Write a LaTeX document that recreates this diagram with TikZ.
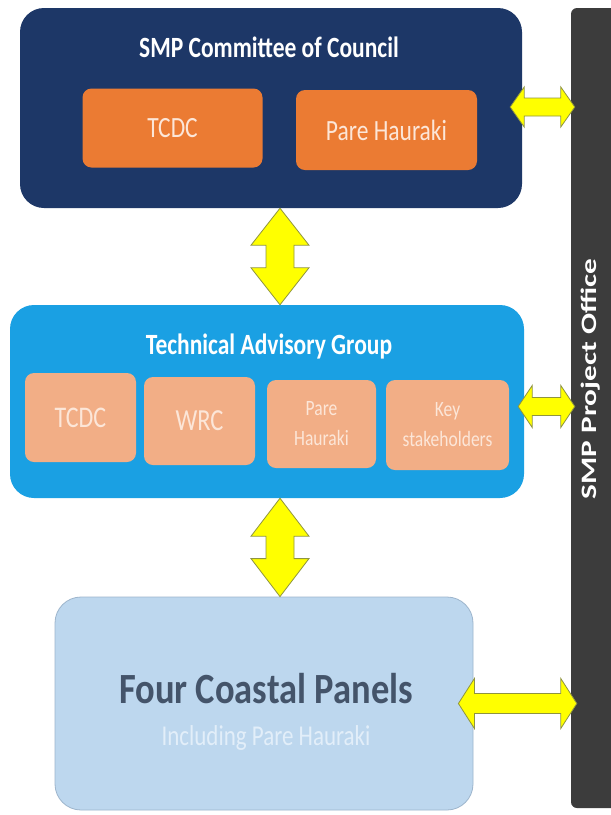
\documentclass[tikz,border=0pt]{standalone}
\usepackage{fontspec}
\usepackage{graphicx}
\setmainfont{Carlito}
\usetikzlibrary{calc}
\definecolor{navy}{HTML}{1D3767}
\definecolor{tagblue}{HTML}{1AA0E3}
\definecolor{orng}{HTML}{EB7B33}
\definecolor{salmon}{HTML}{F2AE86}
\definecolor{lblue}{HTML}{BDD7EE}
\definecolor{lbedge}{HTML}{9DB5CC}
\definecolor{barc}{HTML}{3C3C3C}
\definecolor{darktxt}{HTML}{44546A}
\definecolor{yel}{HTML}{FFFF00}
\definecolor{yeledge}{HTML}{8F9440}
\definecolor{lighttxt}{HTML}{FCE6D8}
\definecolor{subtxt}{HTML}{E2EEF9}
% tall (vertically stretched) text
\newcommand\tallt[1]{\scalebox{1}[1.25]{#1}}
\newcommand\twoline[2]{\tallt{\begin{tabular}{@{}c@{}}#1\\#2\end{tabular}}}
% vertical double block arrow: top, bottom, head length, half head width, half shaft width
\newcommand\vdblarrow[5]{\draw[yarrow] (#1) -- ++(#4,#3) -- ++(#5-#4,0) -- ($(#2)+(#5,-#3)$) -- ++(#4-#5,0) -- (#2) -- ++(-#4,-#3) -- ++(#4-#5,0) -- ($(#1)+(-#5,#3)$) -- ++(#5-#4,0) -- cycle;}
% horizontal double block arrow: left, right, head length, half head width, half shaft width
\newcommand\hdblarrow[5]{\draw[yarrow] (#1) -- ++(#3,-#4) -- ++(0,#4-#5) -- ($(#2)+(-#3,-#5)$) -- ++(0,#5-#4) -- (#2) -- ++(-#3,#4) -- ++(0,#5-#4) -- ($(#1)+(#3,#5)$) -- ++(0,#4-#5) -- cycle;}
\begin{document}
\begin{tikzpicture}[x=1pt,y=-1pt,
  bigbox/.style={rounded corners=24pt, inner sep=0pt},
  orbox/.style={fill=orng, rounded corners=9pt, inner sep=0pt, text=lighttxt, font=\fontsize{23.5}{26}\selectfont},
  sabox/.style={fill=salmon, rounded corners=9pt, inner sep=0pt, text=lighttxt, align=center},
  titletxt/.style={text=white, inner sep=0pt, font=\bfseries\fontsize{23.5}{26}\selectfont},
  yarrow/.style={fill=yel, draw=yeledge, line width=0.8pt, line join=miter}
]
\useasboundingbox (0,0) rectangle (611,815);
\clip (0,0) rectangle (611,815);
\fill[white] (0,0) rectangle (611,815);

% project office bar
\node[fill=barc, rounded corners=6pt, minimum width=48pt, minimum height=800pt] (po) at (595,408) {};
\node[rotate=90, text=white, inner sep=0pt, font=\bfseries\fontsize{22}{24}\selectfont] (pol) at (591,379) {\scalebox{1.42}[1]{SMP Project Office}};

% committee
\node[bigbox, fill=navy, minimum width=502pt, minimum height=200pt] (cc) at (271,108) {};
\node[titletxt] (cct) at (269,47) {\tallt{SMP Committee of Council}};
\node[orbox, minimum width=180pt, minimum height=79pt] (t1) at (172.5,128) {\tallt{TCDC}};
\node[orbox, minimum width=181pt, minimum height=80pt] (t2) at (386.5,130) {\tallt{Pare Hauraki}};

% technical advisory group
\node[bigbox, fill=tagblue, minimum width=514pt, minimum height=193pt] (tag) at (267,401.5) {};
\node[titletxt] (tagt) at (269,346) {\tallt{Technical Advisory Group}};
\node[sabox, minimum width=111pt, minimum height=89pt, font=\fontsize{24}{26}\selectfont] (s1) at (80.5,417.5) {\tallt{TCDC}};
\node[sabox, minimum width=111pt, minimum height=88pt, font=\fontsize{24.5}{26}\selectfont] (s2) at (199.5,421) {\tallt{WRC}};
\node[sabox, minimum width=109pt, minimum height=88pt, font=\fontsize{17.5}{24}\selectfont] (s3) at (321.5,424) {\twoline{Pare}{Hauraki}};
\node[sabox, minimum width=123pt, minimum height=90pt, font=\fontsize{17.5}{24}\selectfont] (s4) at (447.5,425) {\twoline{Key}{stakeholders}};

% coastal panels
\node[rounded corners=26pt, fill=lblue, draw=lbedge, line width=0.8pt, minimum width=418pt, minimum height=213pt] (fcp) at (264,703.5) {};
\node[text=darktxt, inner sep=0pt, font=\bfseries\fontsize{36.5}{40}\selectfont] (fcpt) at (266,689) {\scalebox{1}[1.18]{Four Coastal Panels}};
\node[text=subtxt, inner sep=0pt, font=\fontsize{23}{25}\selectfont] (fcps) at (266,738) {\tallt{Including Pare Hauraki}};

% vertical arrows
\coordinate (a1t) at ($(cc.south)+(9,0)$);
\coordinate (a1b) at (a1t |- tag.north);
\vdblarrow{a1t}{a1b}{37}{29}{14}
\coordinate (a2t) at ($(tag.south)+(13,0)$);
\coordinate (a2b) at (a2t |- fcp.north);
\vdblarrow{a2t}{a2b}{38}{29}{14}

% horizontal arrows
\coordinate (h1l) at ($(cc.east)+(-12,-1)$);
\coordinate (h1r) at ($(h1l -| po.west)+(4,0)$);
\hdblarrow{h1l}{h1r}{14}{20}{9}
\coordinate (h2l) at ($(tag.east)+(-6,5)$);
\coordinate (h2r) at ($(h2l -| po.west)+(4,0)$);
\hdblarrow{h2l}{h2r}{14}{21}{9}
\coordinate (h3l) at ($(fcp.east)+(-15,0)$);
\coordinate (h3r) at ($(h3l -| po.west)+(6,0)$);
\hdblarrow{h3l}{h3r}{16}{25}{10}
\end{tikzpicture}
\end{document}
